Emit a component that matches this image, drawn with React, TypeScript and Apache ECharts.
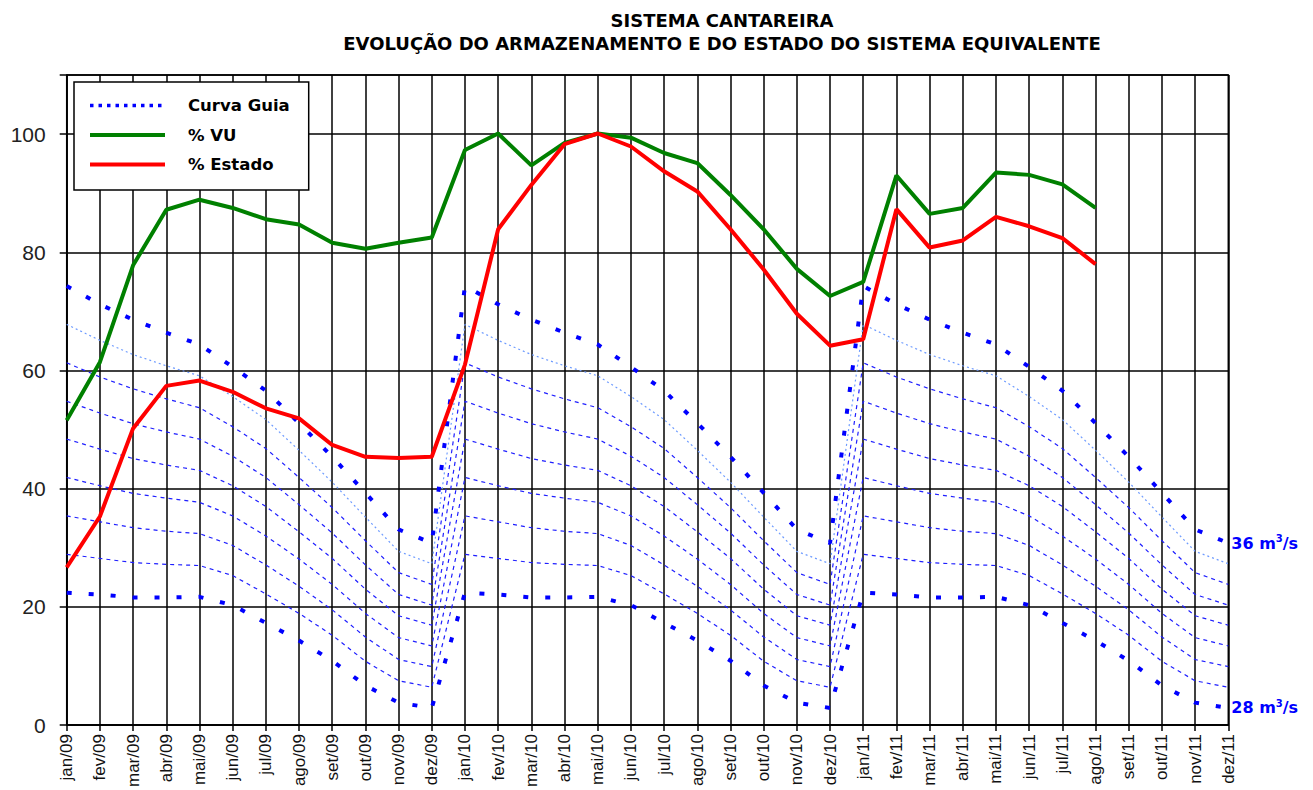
import React, { useEffect, useRef } from "react";
import * as echarts from "echarts";

const categories = [
  "jan/09", "fev/09", "mar/09", "abr/09", "mai/09", "jun/09", "jul/09", "ago/09", "set/09", "out/09", "nov/09", "dez/09",
  "jan/10", "fev/10", "mar/10", "abr/10", "mai/10", "jun/10", "jul/10", "ago/10", "set/10", "out/10", "nov/10", "dez/10",
  "jan/11", "fev/11", "mar/11", "abr/11", "mai/11", "jun/11", "jul/11", "ago/11", "set/11", "out/11", "nov/11", "dez/11",
];

const vuValues = [
  51.6, 61.4, 77.8, 87.2, 88.9, 87.5, 85.6, 84.7, 81.6, 80.6, 81.6, 82.5,
  97.3, 100.1, 94.7, 98.5, 100.1, 99.4, 96.8, 95.1, 89.7, 83.9, 77.2, 72.6,
  75.0, 93.0, 86.5, 87.5, 93.5, 93.1, 91.5, 87.5,
];

const estadoValues = [
  26.7, 35.3, 50.2, 57.4, 58.3, 56.4, 53.6, 51.9, 47.4, 45.4, 45.2, 45.4,
  61.0, 83.9, 91.4, 98.3, 100.1, 97.9, 93.7, 90.3, 83.9, 77.1, 69.6, 64.2,
  65.3, 87.3, 80.8, 82.0, 86.0, 84.4, 82.4, 78.0,
];

// Curva Guia: one year (jan..dez), drawn for each of the three years
const guia36 = [74.3, 71.2, 68.6, 66.4, 64.4, 60.6, 56.6, 51.1, 45.4, 39.3, 33.1, 30.8];
const guia35 = [67.8, 65.1, 62.7, 60.8, 59.1, 55.6, 51.7, 46.5, 41.1, 35.2, 29.4, 27.3];
const guia34 = [61.3, 58.9, 56.9, 55.2, 53.7, 50.5, 46.8, 41.9, 36.8, 31.2, 25.8, 23.8];
const guia33 = [54.8, 52.8, 51.0, 49.6, 48.4, 45.5, 41.9, 37.3, 32.5, 27.1, 22.1, 20.3];
const guia32 = [48.4, 46.7, 45.1, 44.0, 43.1, 40.5, 37.0, 32.7, 28.2, 23.0, 18.5, 16.9];
const guia31 = [41.9, 40.5, 39.2, 38.4, 37.7, 35.4, 32.0, 28.1, 23.8, 18.9, 14.8, 13.4];
const guia30 = [35.4, 34.4, 33.4, 32.8, 32.4, 30.4, 27.1, 23.5, 19.5, 14.9, 11.1, 9.9];
const guia29 = [28.9, 28.2, 27.5, 27.2, 27.0, 25.3, 22.2, 18.9, 15.2, 10.8, 7.5, 6.4];
const guia28 = [22.4, 22.1, 21.6, 21.6, 21.7, 20.3, 17.3, 14.3, 10.9, 6.7, 3.8, 2.9];

const yTicks = [0, 20, 40, 60, 80, 100];

const threeYears = (a: number[]) => [...a, ...a, ...a];

export default function App() {
  const ref = useRef<HTMLDivElement>(null);
  useEffect(() => {
    if (!ref.current) return;
    const chart = echarts.init(ref.current, null, { renderer: "svg" });
    const blue = "#0000ff";
    const green = "#008000";
    const red = "#ff0000";
    const thin = (name: string, data: number[], color: string, type: any) => ({
      name,
      type: "line",
      data: threeYears(data),
      symbol: "none",
      silent: true,
      color,
      z: 2,
      lineStyle: { color, width: 1.2, type },
    });
    const labelRich = {
      a: { fontFamily: "'DejaVu Sans', sans-serif", fontWeight: "bold", fontSize: 16, color: blue, lineHeight: 20 },
      b: { fontFamily: "'DejaVu Sans', sans-serif", fontWeight: "bold", fontSize: 10, color: blue, lineHeight: 20, padding: [0, 0, 9, 0] },
    };
    const thick = (name: string, data: number[], label: string) => ({
      name,
      type: "line",
      data: threeYears(data),
      symbol: "none",
      silent: true,
      color: blue,
      z: 3,
      lineStyle: { color: blue, width: 4, type: [5, 17] },
      endLabel: {
        show: true,
        distance: 3,
        formatter: label,
        rich: labelRich,
      },
    });
    chart.setOption({
      animation: false,
      title: {
        text: "SISTEMA CANTAREIRA\nEVOLUÇÃO DO ARMAZENAMENTO E DO ESTADO DO SISTEMA EQUIVALENTE",
        left: 717,
        top: 4,
        textAlign: "center",
        textStyle: {
          fontFamily: "'DejaVu Sans', sans-serif",
          fontWeight: "bold",
          fontSize: 18,
          lineHeight: 23,
          color: "#000",
        },
      },
      legend: {
        orient: "vertical",
        left: 74,
        top: 82,
        padding: [15, 19, 17, 14],
        itemWidth: 75,
        itemHeight: 14,
        itemGap: 12.5,
        backgroundColor: "#fff",
        borderColor: "#000",
        borderWidth: 1.5,
        itemStyle: { opacity: 0 },
        data: [
          { name: "Curva Guia", lineStyle: { width: 3.5, color: blue, type: [3.5, 5] } },
          { name: "% VU", lineStyle: { width: 4, color: green } },
          { name: "% Estado", lineStyle: { width: 4, color: red } },
        ],
        formatter: (n: string) => `{t|${n}}`,
        textStyle: {
          rich: {
            t: {
              fontFamily: "'DejaVu Sans', sans-serif",
              fontWeight: "bold",
              fontSize: 16.5,
              color: "#000",
              lineHeight: 20,
              padding: [0, 0, 0, 18],
            },
          },
        },
      },
      grid: {
        left: 66.7,
        right: 84.7,
        top: 75,
        bottom: 61.5,
        show: true,
        borderColor: "#000",
        borderWidth: 1.5,
        backgroundColor: "#fff",
      },
      xAxis: {
        type: "category",
        data: categories,
        boundaryGap: false,
        axisLine: { lineStyle: { color: "#000", width: 1.5 } },
        axisTick: { show: true, length: 6, interval: 0, lineStyle: { color: "#000", width: 1.5 } },
        splitLine: { show: true, interval: 0, lineStyle: { color: "#000", width: 1.5 } },
        axisLabel: {
          interval: 0,
          rotate: 90,
          margin: 9,
          fontFamily: "'Liberation Sans', Arial, sans-serif",
          fontSize: 17,
          color: "#111",
        },
      },
      yAxis: {
        type: "value",
        min: 0,
        max: 110,
        interval: 20,
        axisLine: { show: true, lineStyle: { color: "#000", width: 1.5 } },
        axisTick: { show: true, length: 7, lineStyle: { color: "#000", width: 1.5 } },
        splitLine: { show: true, lineStyle: { color: "#000", width: 1.5 } },
        axisLabel: {
          margin: 21,
          fontFamily: "'Liberation Sans', Arial, sans-serif",
          fontSize: 21,
          color: "#222",
          formatter: (v: number) => (yTicks.includes(v) ? String(v) : ""),
        },
      },
      series: [
        {
          name: "Curva Guia",
          type: "line",
          data: [],
          symbol: "none",
          color: blue,
          lineStyle: { color: blue, width: 3.5, type: [3.5, 5] },
        },
        thick("g36", guia36, "{a|36 m}{b|3}{a|/s}"),
        thin("g35", guia35, "#6e9bff", [2, 3]),
        thin("g34", guia34, "#1f1fff", [4, 4]),
        thin("g33", guia33, "#1f1fff", [4, 4]),
        thin("g32", guia32, "#1f1fff", [4, 4]),
        thin("g31", guia31, "#1f1fff", [4, 4]),
        thin("g30", guia30, "#1f1fff", [4, 4]),
        thin("g29", guia29, "#1f1fff", [4, 4]),
        thick("g28", guia28, "{a|28 m}{b|3}{a|/s}"),
        {
          name: "% VU",
          type: "line",
          data: vuValues,
          symbol: "none",
          color: green,
          z: 5,
          lineStyle: { color: green, width: 4 },
        },
        {
          name: "% Estado",
          type: "line",
          data: estadoValues,
          symbol: "none",
          color: red,
          z: 6,
          lineStyle: { color: red, width: 4 },
        },
      ],
    });
    return () => chart.dispose();
  }, []);
  return (
    <div
      ref={ref}
      style={{ position: "absolute", left: 0, top: 0, width: 1313, height: 790, background: "#fff" }}
    />
  );
}
